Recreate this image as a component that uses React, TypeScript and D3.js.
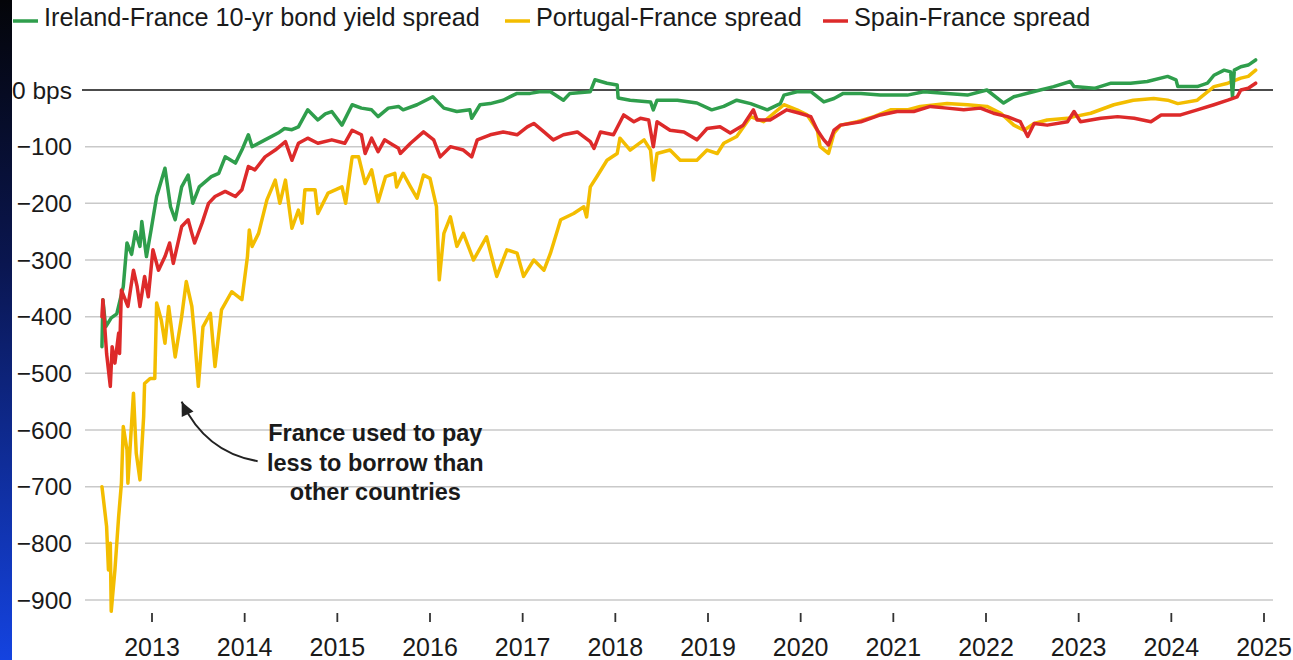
import React from "react";
import * as d3 from "d3";

type P = [number, number];

// [decimal year, spread in bps]
const ireland: P[] = [
  [2012.46, -453], [2012.47, -370], [2012.5, -418], [2012.56, -402], [2012.62, -395], [2012.69, -347],
  [2012.73, -270], [2012.78, -290], [2012.82, -250], [2012.87, -276], [2012.89, -232], [2012.94, -294],
  [2012.99, -247], [2013.05, -188], [2013.14, -138], [2013.2, -206], [2013.25, -229], [2013.32, -171],
  [2013.39, -150], [2013.44, -200], [2013.51, -171], [2013.64, -153], [2013.72, -147], [2013.79, -118],
  [2013.9, -129], [2013.97, -106], [2014.04, -79], [2014.08, -100], [2014.22, -88], [2014.36, -76],
  [2014.43, -68], [2014.51, -70], [2014.58, -65], [2014.68, -35], [2014.79, -53], [2014.87, -42],
  [2014.94, -38], [2015.05, -62], [2015.16, -26], [2015.26, -32], [2015.37, -35], [2015.44, -47],
  [2015.55, -32], [2015.66, -29], [2015.71, -35], [2015.86, -26], [2016.03, -12], [2016.15, -32],
  [2016.29, -38], [2016.43, -35], [2016.45, -50], [2016.54, -26], [2016.65, -24], [2016.79, -18],
  [2016.9, -9], [2016.94, -6], [2017.08, -6], [2017.18, -3], [2017.3, -3], [2017.44, -18],
  [2017.51, -6], [2017.73, -3], [2017.78, 18], [2017.91, 12], [2018.02, 9], [2018.03, -14],
  [2018.16, -18], [2018.38, -21], [2018.41, -35], [2018.45, -18], [2018.67, -18], [2018.88, -23],
  [2019.04, -35], [2019.17, -29], [2019.31, -18], [2019.46, -24], [2019.64, -35], [2019.78, -24],
  [2019.82, -9], [2019.96, -3], [2020.11, -3], [2020.25, -21], [2020.36, -15], [2020.46, -6],
  [2020.65, -6], [2020.86, -9], [2021.15, -9], [2021.33, -3], [2021.58, -6], [2021.8, -9],
  [2022.01, 0], [2022.19, -23], [2022.3, -12], [2022.51, -3], [2022.73, 6], [2022.91, 15],
  [2022.95, 6], [2023.17, 3], [2023.35, 12], [2023.56, 12], [2023.74, 15], [2023.96, 24],
  [2024.05, 18], [2024.07, 6], [2024.28, 6], [2024.39, 12], [2024.46, 26], [2024.57, 35],
  [2024.64, 32], [2024.66, -12], [2024.68, 35], [2024.75, 41], [2024.83, 44], [2024.91, 53],
];

const portugal: P[] = [
  [2012.46, -700], [2012.51, -770], [2012.53, -847], [2012.55, -800], [2012.56, -920], [2012.6, -847],
  [2012.64, -753], [2012.67, -694], [2012.69, -594], [2012.73, -635], [2012.74, -694], [2012.8, -535],
  [2012.83, -641], [2012.87, -688], [2012.91, -576], [2012.92, -518], [2012.98, -509], [2013.03, -509],
  [2013.05, -376], [2013.1, -406], [2013.14, -447], [2013.18, -382], [2013.25, -471], [2013.32, -400],
  [2013.37, -338], [2013.43, -382], [2013.46, -435], [2013.5, -523], [2013.55, -418], [2013.63, -394],
  [2013.68, -488], [2013.75, -388], [2013.86, -356], [2013.97, -370], [2014.03, -294], [2014.05, -247],
  [2014.08, -276], [2014.15, -253], [2014.24, -194], [2014.33, -159], [2014.38, -200], [2014.44, -159],
  [2014.51, -244], [2014.58, -212], [2014.62, -235], [2014.65, -176], [2014.76, -176], [2014.79, -218],
  [2014.9, -182], [2015.05, -171], [2015.09, -200], [2015.16, -118], [2015.23, -118], [2015.3, -165],
  [2015.37, -141], [2015.44, -197], [2015.52, -153], [2015.62, -147], [2015.64, -171], [2015.71, -147],
  [2015.79, -171], [2015.86, -191], [2015.93, -150], [2016.0, -156], [2016.07, -206], [2016.1, -335],
  [2016.15, -253], [2016.22, -224], [2016.29, -276], [2016.36, -253], [2016.47, -300], [2016.61, -259],
  [2016.72, -329], [2016.83, -282], [2016.94, -288], [2017.01, -329], [2017.12, -300], [2017.23, -318],
  [2017.3, -288], [2017.41, -229], [2017.55, -218], [2017.66, -206], [2017.69, -224], [2017.73, -171],
  [2017.8, -153], [2017.91, -124], [2018.02, -112], [2018.05, -85], [2018.16, -106], [2018.31, -88],
  [2018.38, -106], [2018.41, -159], [2018.45, -112], [2018.59, -106], [2018.7, -124], [2018.88, -124],
  [2018.99, -106], [2019.1, -112], [2019.17, -94], [2019.31, -82], [2019.46, -47], [2019.6, -56],
  [2019.82, -26], [2019.96, -35], [2020.07, -44], [2020.18, -71], [2020.21, -100], [2020.3, -112],
  [2020.36, -76], [2020.43, -62], [2020.61, -56], [2020.79, -47], [2020.97, -35], [2021.15, -35],
  [2021.29, -29], [2021.58, -24], [2021.8, -26], [2022.01, -29], [2022.16, -41], [2022.3, -62],
  [2022.41, -71], [2022.52, -59], [2022.66, -53], [2022.88, -50], [2022.95, -47], [2023.13, -41],
  [2023.38, -26], [2023.59, -18], [2023.81, -15], [2023.96, -18], [2024.07, -24], [2024.28, -18],
  [2024.46, 6], [2024.61, 12], [2024.75, 21], [2024.83, 24], [2024.91, 35],
];

const spain: P[] = [
  [2012.46, -400], [2012.47, -370], [2012.51, -465], [2012.55, -523], [2012.57, -453], [2012.6, -482],
  [2012.64, -429], [2012.65, -465], [2012.67, -353], [2012.74, -382], [2012.8, -318], [2012.84, -347],
  [2012.87, -382], [2012.92, -329], [2012.96, -365], [2013.01, -282], [2013.07, -318], [2013.14, -294],
  [2013.19, -270], [2013.23, -306], [2013.32, -241], [2013.39, -229], [2013.43, -253], [2013.46, -270],
  [2013.54, -235], [2013.61, -200], [2013.68, -188], [2013.79, -179], [2013.9, -188], [2013.97, -176],
  [2014.04, -135], [2014.11, -141], [2014.22, -118], [2014.33, -106], [2014.44, -91], [2014.51, -124],
  [2014.58, -94], [2014.68, -85], [2014.79, -94], [2014.94, -88], [2015.08, -94], [2015.16, -71],
  [2015.26, -79], [2015.3, -112], [2015.37, -85], [2015.44, -109], [2015.51, -88], [2015.57, -94],
  [2015.66, -103], [2015.68, -112], [2015.79, -94], [2015.93, -74], [2016.04, -88], [2016.11, -118],
  [2016.22, -100], [2016.36, -106], [2016.45, -118], [2016.51, -88], [2016.65, -79], [2016.79, -74],
  [2016.94, -79], [2017.05, -65], [2017.12, -59], [2017.23, -74], [2017.33, -88], [2017.44, -79],
  [2017.59, -74], [2017.73, -91], [2017.77, -103], [2017.84, -74], [2017.98, -79], [2018.09, -44],
  [2018.2, -56], [2018.27, -50], [2018.36, -53], [2018.41, -100], [2018.45, -56], [2018.59, -71],
  [2018.74, -74], [2018.88, -88], [2018.99, -68], [2019.13, -65], [2019.24, -76], [2019.38, -62],
  [2019.49, -35], [2019.53, -53], [2019.67, -53], [2019.85, -35], [2019.99, -41], [2020.11, -47],
  [2020.18, -71], [2020.25, -88], [2020.3, -97], [2020.36, -71], [2020.43, -62], [2020.65, -56],
  [2020.86, -44], [2021.04, -38], [2021.22, -38], [2021.4, -29], [2021.58, -32], [2021.76, -35],
  [2021.94, -32], [2022.08, -41], [2022.23, -47], [2022.37, -56], [2022.45, -82], [2022.52, -59],
  [2022.66, -62], [2022.88, -56], [2022.95, -38], [2023.02, -56], [2023.24, -50], [2023.42, -47],
  [2023.6, -50], [2023.78, -56], [2023.89, -44], [2024.1, -44], [2024.28, -35], [2024.46, -26],
  [2024.61, -18], [2024.71, -12], [2024.75, 0], [2024.83, 3], [2024.91, 12],
];

const xTicks = [2013, 2014, 2015, 2016, 2017, 2018, 2019, 2020, 2021, 2022, 2023, 2024, 2025];
const yTicks = [0, -100, -200, -300, -400, -500, -600, -700, -800, -900];

const legendItems = [
  { label: "Ireland-France 10-yr bond yield spread", color: "#2f9e4c", x: 13 },
  { label: "Portugal-France spread", color: "#f3bd00", x: 505 },
  { label: "Spain-France spread", color: "#dd2a2a", x: 823 },
];

const noteLines = ["France used to pay", "less to borrow than", "other countries"];
// annotation anchored in data space
const noteAt: P = [2015.41, -620];
const arrowTip: P = [2013.32, -550];
const arrowTail: P = [2014.14, -655];
const arrowCtrl: P = [2013.58, -640];

const W = 1293;
const H = 660;
const FONT = "'Liberation Sans', Arial, Helvetica, sans-serif";

export default function App() {
  const x = d3.scaleLinear().domain([2013, 2025]).range([152, 1264]);
  const y = d3.scaleLinear().domain([-900, 0]).range([600, 90]);
  const line = d3
    .line<P>()
    .x((d) => x(d[0]))
    .y((d) => y(d[1]));

  const gridLeft = 85;
  const gridRight = 1273;

  const series = [
    { data: portugal, color: legendItems[1].color },
    { data: ireland, color: legendItems[0].color },
    { data: spain, color: legendItems[2].color },
  ];

  const tip = [x(arrowTip[0]), y(arrowTip[1])];
  const tail = [x(arrowTail[0]), y(arrowTail[1])];
  const ctrl = [x(arrowCtrl[0]), y(arrowCtrl[1])];
  const path = d3.path();
  path.moveTo(tail[0], tail[1]);
  path.quadraticCurveTo(ctrl[0], ctrl[1], tip[0], tip[1]);
  const ang = Math.atan2(tip[1] - ctrl[1], tip[0] - ctrl[0]);
  const ah = 14;
  const aw = 6.5;
  const bx = tip[0] - ah * Math.cos(ang);
  const by = tip[1] - ah * Math.sin(ang);
  const head = `M${tip[0]},${tip[1]} L${bx + aw * Math.sin(ang)},${by - aw * Math.cos(ang)} L${bx - aw * Math.sin(ang)},${by + aw * Math.cos(ang)} Z`;

  return (
    <svg
      width={W}
      height={H}
      style={{ position: "absolute", left: 0, top: 0, background: "#fff" }}
      fontFamily={FONT}
    >
      <defs>
        <linearGradient id="strip" x1="0" y1="0" x2="0" y2="1">
          <stop offset="0" stopColor="#040509" />
          <stop offset="0.4" stopColor="#0a1650" />
          <stop offset="1" stopColor="#1443e0" />
        </linearGradient>
      </defs>
      <rect x={0} y={0} width={W} height={H} fill="#fff" />
      <rect x={0} y={0} width={12} height={H} fill="url(#strip)" />

      {yTicks.map((t) => (
        <g key={t}>
          <line
            x1={t === 0 ? 82 : gridLeft}
            x2={gridRight}
            y1={y(t)}
            y2={y(t)}
            stroke={t === 0 ? "#111" : "#c9c9c9"}
            strokeWidth={t === 0 ? 1.6 : 1.5}
          />
          <text x={72} y={y(t) + 8.5} textAnchor="end" fontSize={24.5} fill="#1a1a1a">
            {t === 0 ? "0 bps" : "\u2212" + Math.abs(t)}
          </text>
        </g>
      ))}

      {xTicks.map((t) => (
        <g key={t}>
          <line x1={x(t)} x2={x(t)} y1={613} y2={622} stroke="#333" strokeWidth={1.8} />
          <text x={x(t)} y={656} textAnchor="middle" fontSize={25} fill="#1a1a1a">
            {t}
          </text>
        </g>
      ))}

      {series.map((s, i) => (
        <path
          key={i}
          d={line(s.data) || ""}
          fill="none"
          stroke={s.color}
          strokeWidth={3.5}
          strokeLinejoin="round"
          strokeLinecap="round"
        />
      ))}

      <path d={path.toString()} fill="none" stroke="#222" strokeWidth={2} />
      <path d={head} fill="#222" />
      {noteLines.map((l, i) => (
        <text
          key={i}
          x={x(noteAt[0])}
          y={y(noteAt[1]) + i * 29.5}
          textAnchor="middle"
          fontSize={23.5}
          fontWeight="bold"
          fill="#1a1a1a"
        >
          {l}
        </text>
      ))}

      {legendItems.map((it) => (
        <g key={it.label}>
          <line x1={it.x} x2={it.x + 25} y1={21} y2={21} stroke={it.color} strokeWidth={3.5} />
          <text x={it.x + 31} y={26} fontSize={25.3} fill="#1a1a1a">
            {it.label}
          </text>
        </g>
      ))}
    </svg>
  );
}
